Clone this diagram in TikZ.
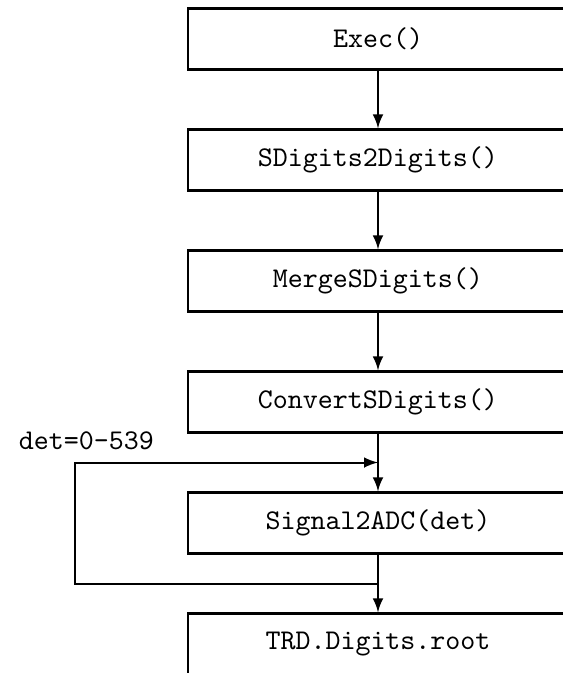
\documentclass[tikz,border=0pt]{standalone}
\usetikzlibrary{positioning,calc}

\begin{document}
\begin{tikzpicture}[
    >=latex,
    box/.style={draw, line width=0.8pt, minimum width=133pt, minimum height=21.35pt, font=\ttfamily},
    flow/.style={->, line width=0.7pt},
    node distance=20.2pt
]
%\draw [help lines] (-4.6,-7.8) grid (2.2,0.4);
    \useasboundingbox (-132.3pt,13.65pt) rectangle (64.75pt,-221.9pt);
    \node [box] (exec) {Exec()};
    \node [box, below=of exec] (sd2d) {SDigits2Digits()};
    \node [box, below=of sd2d] (merge) {MergeSDigits()};
    \node [box, below=of merge] (conv) {ConvertSDigits()};
    \node [box, below=of conv] (s2a) {Signal2ADC(det)};
    \node [box, below=of s2a] (root) {TRD.Digits.root};
    \draw [flow] (exec) -- (sd2d);
    \draw [flow] (sd2d) -- (merge);
    \draw [flow] (merge) -- (conv);
    \draw [flow] (conv) -- (s2a);
    \draw [flow] (s2a) -- (root);
    % loop over the detectors
    \coordinate (fbtop) at ($(conv.south)!0.5!(s2a.north)$);
    \coordinate (fbbot) at ($(s2a.south)!0.5!(root.north)$);
    \coordinate (loopx) at (-106pt,0);
    \draw [flow] (fbbot) -- (fbbot -| loopx) |- (fbtop);
    \node [font=\ttfamily] (detlbl) at ($(fbtop -| loopx)+(3.9pt,7.7pt)$) {det=0-539};
\end{tikzpicture}
\end{document}
